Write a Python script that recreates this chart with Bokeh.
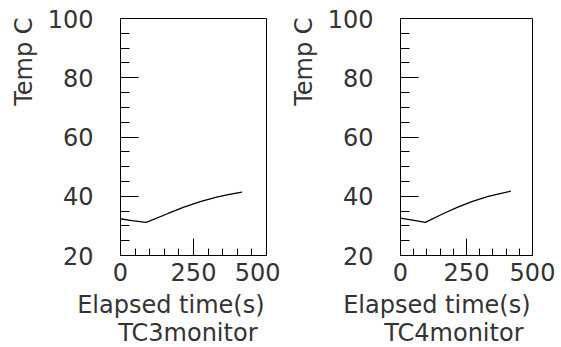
from bokeh.plotting import figure
from bokeh.layouts import row
from bokeh.models import SingleIntervalTicker, Title, Range1d
from bokeh.embed import file_html
from bokeh.resources import INLINE

# data
tc3_time = [0, 38, 88, 161, 217, 273, 329, 373, 416]
tc3_temp = [32.4, 31.8, 31.2, 34.1, 36.3, 38.2, 39.7, 40.6, 41.4]
tc4_time = [0, 40, 94, 161, 217, 273, 329, 373, 418]
tc4_temp = [32.6, 32.0, 31.2, 34.1, 36.3, 38.3, 39.9, 40.8, 41.7]

x_label = "Elapsed time(s)"
y_label = "Temp C"
titles = ["TC3monitor", "TC4monitor"]

FONT = "DejaVu Sans"
TXT = "#333333"


def make_panel(t, v, title, width, border_left, border_right):
    p = figure(width=width, height=347, output_backend="svg", toolbar_location=None,
               x_range=Range1d(0, 500), y_range=Range1d(20, 100),
               min_border_left=border_left, min_border_right=border_right,
               min_border_top=18, min_border_bottom=92)
    p.grid.visible = False
    p.outline_line_color = "black"
    p.outline_line_width = 1
    p.background_fill_color = "white"
    p.border_fill_color = "white"

    p.line(t, v, line_color="black", line_width=1.3)

    xa = p.xaxis[0]
    xa.ticker = SingleIntervalTicker(interval=250, num_minor_ticks=5)
    xa.major_tick_in = 17
    xa.major_tick_out = 0
    xa.minor_tick_in = 7
    xa.minor_tick_out = 0
    xa.major_label_standoff = 7
    ya = p.yaxis[0]
    ya.ticker = SingleIntervalTicker(interval=20, num_minor_ticks=4)
    ya.major_tick_in = 18
    ya.major_tick_out = 0
    ya.minor_tick_in = 9
    ya.minor_tick_out = 0
    ya.major_label_standoff = 27
    for ax in (xa, ya):
        ax.axis_line_color = "black"
        ax.major_tick_line_color = "black"
        ax.minor_tick_line_color = "black"
        ax.major_label_text_font = FONT
        ax.major_label_text_font_size = "24px"
        ax.major_label_text_color = TXT

    common = dict(text_font=FONT, text_font_size="24px", text_color=TXT,
                  text_font_style="normal", align="right")
    p.add_layout(Title(text=x_label, offset=2, standoff=10, **common), "below")
    p.add_layout(Title(text=title, offset=9, standoff=-13, **common), "below")
    p.add_layout(Title(text=y_label, offset=-1, standoff=14, **common), "left")
    return p


p1 = make_panel(tc3_time, tc3_temp, titles[0], 280, 117, 14)
p2 = make_panel(tc4_time, tc4_temp, titles[1], 281, 103, 29)
layout = row(p1, p2)

open("out.html", "w").write(file_html(layout, INLINE))
